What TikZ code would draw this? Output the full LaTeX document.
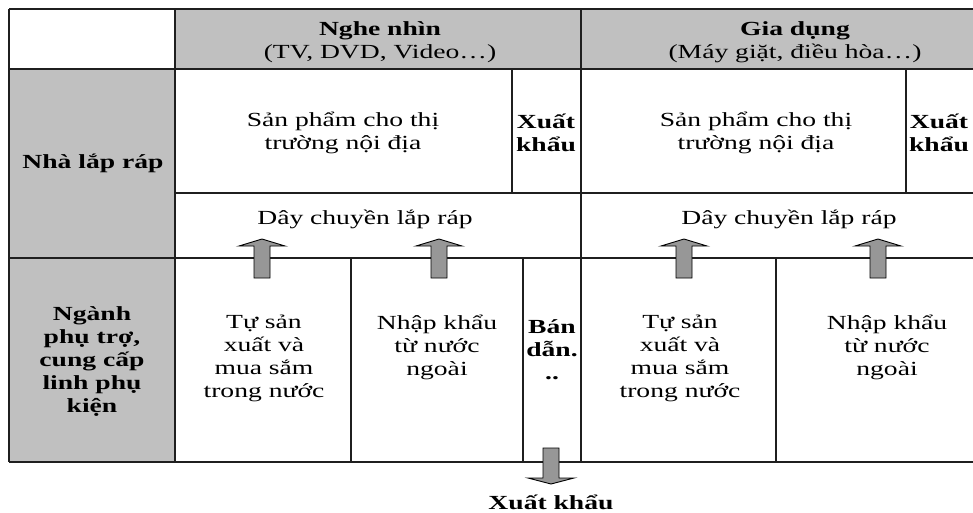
\documentclass[tikz,border=0pt]{standalone}
\usepackage{fontspec}
\setmainfont{Liberation Serif}[FakeStretch=1.38]
\definecolor{headgray}{HTML}{C0C0C0}
\definecolor{arrowgray}{HTML}{979797}
\begin{document}
\begin{tikzpicture}[x=1pt,y=-1pt,
  grid/.style={line width=1.7pt, draw=black!88},
  cell/.style={align=center, inner sep=0pt, font=\fontsize{20}{23}\selectfont},
  hcell/.style={align=center, inner sep=0pt, font=\fontsize{20}{23}\selectfont\bfseries},
  blockarrow/.style={draw=black, line width=0.9pt, fill=arrowgray, line join=miter},
  uparrow/.pic={\draw[blockarrow] (-8,39) -- (-8,7) -- (-23,7) -- (0,0) -- (23,7) -- (8,7) -- (8,39) -- cycle;},
  downarrow/.pic={\draw[blockarrow] (-8,-36) -- (-8,-6) -- (-23,-6) -- (0,0) -- (23,-6) -- (8,-6) -- (8,-36) -- cycle;}]
\useasboundingbox (0,0) rectangle (973,512);
\fill[white] (0,0) rectangle (973,512);

% shaded header row and row-label column
\fill[headgray] (175,9) rectangle (973,69);
\fill[headgray] (9,69) rectangle (175,462);

% table rules
\draw[grid] (9,9) -- (973,9);
\draw[grid] (9,462) -- (973,462);
\draw[grid] (9,9) -- (9,462);
\draw[grid, line width=2.4pt] (9,69) -- (973,69);
\draw[grid] (175,193) -- (973,193);
\draw[grid] (9,258) -- (973,258);
\draw[grid] (175,9) -- (175,462);
\draw[grid] (581,9) -- (581,462);
\draw[grid] (512,69) -- (512,193);
\draw[grid] (906,69) -- (906,193);
\draw[grid] (351,258) -- (351,462);
\draw[grid] (523,258) -- (523,462);
\draw[grid] (776,258) -- (776,462);

% column headings
\node[hcell] (nghe) at (380,42) {Nghe nhìn\\\mdseries(TV, DVD, Video…)};
\node[hcell] (giadung) at (795,42) {Gia dụng\\\mdseries(Máy giặt, điều hòa…)};

% row headings
\node[hcell] (nha) at (93,163) {Nhà lắp ráp};
\node[hcell] (nganh) at (92,362) {Ngành\\phụ trợ,\\cung cấp\\linh phụ\\kiện};

% assembler row
\node[cell] (sp1) at (343,133) {Sản phẩm cho thị\\trường nội địa};
\node[hcell] (xk1) at (546,133) {Xuất\\khẩu};
\node[cell] (sp2) at (756,133) {Sản phẩm cho thị\\trường nội địa};
\node[hcell] (xk2) at (939,133) {Xuất\\khẩu};
\node[cell] (dc1) at (365,219) {Dây chuyền lắp ráp};
\node[cell] (dc2) at (789,219) {Dây chuyền lắp ráp};

% supplier row
\node[cell] (ts1) at (264,358) {Tự sản\\xuất và\\mua sắm\\trong nước};
\node[cell] (nk1) at (437,347) {Nhập khẩu\\từ nước\\ngoài};
\node[hcell] (bd) at (552,350) {Bán\\dẫn.\\..};
\node[cell] (ts2) at (680,358) {Tự sản\\xuất và\\mua sắm\\trong nước};
\node[cell] (nk2) at (887,347) {Nhập khẩu\\từ nước\\ngoài};

% flows between the rows
\pic at (262,239) {uparrow};
\pic at (439,239) {uparrow};
\pic at (684,239) {uparrow};
\pic at (878,239) {uparrow};
\pic at (551,484) {downarrow};
\node[hcell] (xkout) at (551,502) {Xuất khẩu};
\end{tikzpicture}
\end{document}
